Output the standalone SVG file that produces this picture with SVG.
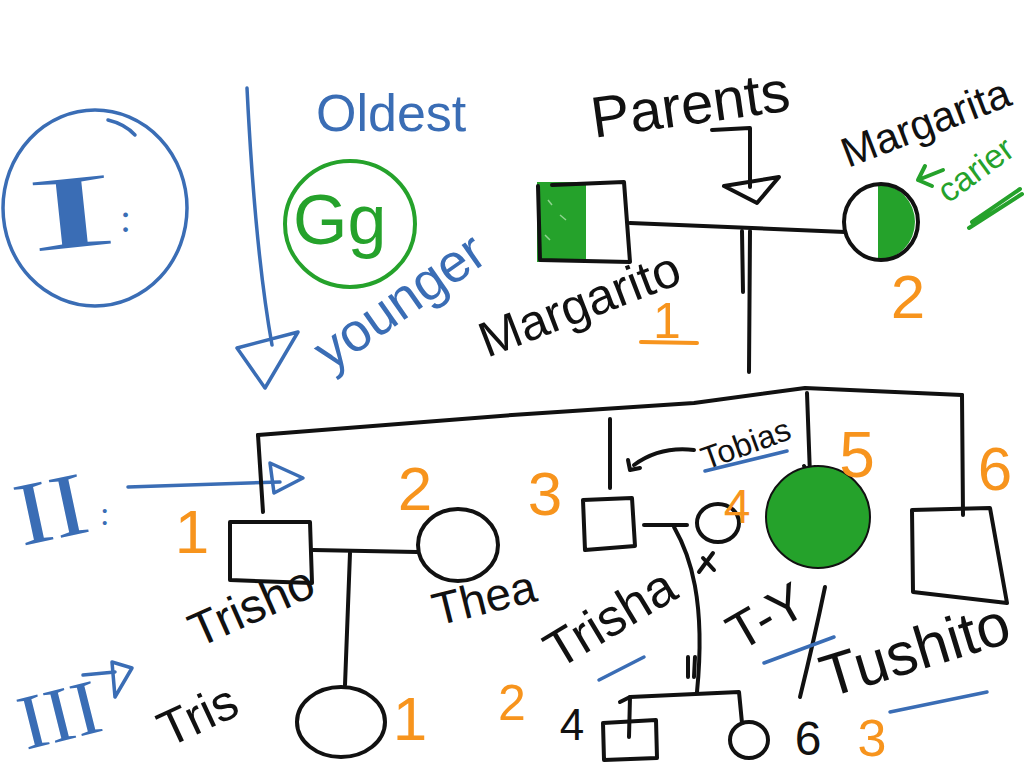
<svg xmlns="http://www.w3.org/2000/svg" width="1024" height="768" viewBox="0 0 1024 768">
<style>
.k{fill:none;stroke:#111;stroke-width:4;stroke-linecap:round;stroke-linejoin:round}
.b{fill:none;stroke:#3a6db5;stroke-width:3.5;stroke-linecap:round;stroke-linejoin:round}
.g{fill:none;stroke:#25a22b;stroke-width:4;stroke-linecap:round;stroke-linejoin:round}
.o{fill:none;stroke:#f7941d;stroke-width:4;stroke-linecap:round}
text{font-family:"Liberation Sans","DejaVu Sans",sans-serif}
.tk{fill:#111}
.tb{fill:#3a6db5}
.tg{fill:#25a22b}
.to{fill:#f7941d}
.rs{font-family:"Liberation Serif","DejaVu Serif",serif;fill:#3a6db5}
</style>
<rect width="1024" height="768" fill="#fff"/>

<g id="legend">
  <ellipse class="b" cx="95" cy="208" rx="92" ry="98"/>
  <path class="b" d="M108,120 Q125,124 135,135"/>
  <text class="rs" font-size="105" transform="translate(30,252) rotate(-6) scale(2.6,1)">I</text>
  <text class="rs" font-size="40" x="120" y="232">:</text>
  <path class="b" d="M247,88 Q255,250 272,345"/>
  <path class="b" d="M237,348 L298,332 L265,388 Z"/>
  <text class="tb" font-size="52" x="316" y="131">Oldest</text>
  <ellipse class="g" cx="350" cy="224" rx="65" ry="63"/>
  <text class="tg" font-size="70" x="293" y="244">Gg</text>
  <text class="tb" font-size="54" transform="translate(330,372) rotate(-35)">younger</text>
  <text class="tk" font-size="58" transform="translate(594,138) rotate(-8)">Parents</text>
  <path class="k" d="M712,130 L750,128 L750,187"/>
  <path class="k" d="M724,186 L779,177 L757,203 Z"/>
</g>

<g id="gen-labels">
  <text class="rs" font-size="90" transform="translate(22,546) rotate(-12) scale(1.2,1)">II</text>
  <text class="rs" font-size="34" x="100" y="525">:</text>
  <path class="b" d="M128,487 L280,482"/>
  <path class="b" d="M270,463 L303,478 L274,493 Z"/>
  <text class="rs" font-size="78" transform="translate(26,750) rotate(-14) scale(1.05,1)">III</text>
  <path class="b" d="M83,675 L115,672"/>
  <path class="b" d="M112,662 L132,668 L115,697 Z"/>
</g>

<g id="connectors">
  <path class="k" d="M630,223 L752,228 L845,232"/>
  <path class="k" d="M742,231 L743,292 M750,231 L749,372"/>
  <path class="k" d="M258,435 L512,415 L694,403 L805,388 L962,395"/>
  <path class="k" d="M263,512 L258,435"/>
  <path class="k" d="M610,419 L610,488"/>
  <path class="k" d="M807,393 L810,475 M804,466 L810,476 L815,467"/>
  <path class="k" d="M962,395 L963,515"/>
  <path class="k" d="M313,550 L417,552"/>
  <path class="k" d="M350,553 L345,685"/>
  <path class="k" d="M644,525 L687,525"/>
  <path class="k" d="M674,527 C690,555 706,600 697,692"/>
  <path class="k" d="M688,657 L688,677 M695,657 L694,677"/>
  <path class="k" d="M699,572 L713,553 M703,558 L714,570"/>
  <path class="k" d="M620,702 L630,697 L739,692 L742,723"/>
  <path class="k" d="M630,697 L629,737"/>
  <path class="k" d="M694,450 Q660,446 634,465 M628,460 L630,470 L640,468"/>
  <path class="k" d="M825,587 Q814,640 800,697"/>
</g>

<g id="I-1">
  <rect x="537" y="182" width="49" height="80" fill="#25a22b"/>
  <path class="k" d="M552,185 L624,182 L630,262 L540,260 L538,186"/>
  <path stroke="#8fd48f" stroke-width="1.5" d="M548,200 L552,205 M560,215 L566,220 M545,235 L550,240" fill="none"/>
  <text class="tk" font-size="50" transform="translate(487,358) rotate(-21)">Margarito</text>
  <text class="to" font-size="50" text-anchor="middle" x="667" y="338">1</text>
  <path class="o" d="M641,342 L697,343"/>
</g>

<g id="I-2">
  <path d="M878,184 A37,38 0 0 1 878,260 Z" fill="#25a22b"/>
  <ellipse class="k" cx="881" cy="222" rx="37" ry="38"/>
  <text class="tk" font-size="42" transform="translate(848,168) rotate(-21)">Margarita</text>
  <path class="g" d="M943,170 L918,180 M918,180 L925,166 M918,180 L932,186"/>
  <text class="tg" font-size="34" transform="translate(948,204) rotate(-36)">carier</text>
  <path class="g" d="M969,228 L1022,194 M972,222 L1020,189"/>
  <text class="to" font-size="62" text-anchor="middle" x="908" y="318">2</text>
</g>

<g id="II-1">
  <path class="k" d="M230,522 L310,522 L312,583 L230,580 Z"/>
  <text class="to" font-size="62" text-anchor="middle" x="192" y="553">1</text>
  <text class="tk" font-size="48" transform="translate(198,648) rotate(-24)">Trisho</text>
</g>

<g id="II-2">
  <ellipse class="k" cx="458" cy="545" rx="40" ry="36"/>
  <text class="to" font-size="62" text-anchor="middle" x="415" y="510">2</text>
  <text class="tk" font-size="46" transform="translate(437,626) rotate(-14)">Thea</text>
</g>

<g id="II-3">
  <path class="k" d="M583,500 L632,498 L635,546 L585,550 Z"/>
  <text class="to" font-size="62" text-anchor="middle" x="545" y="515">3</text>
  <text class="tk" font-size="32" transform="translate(706,470) rotate(-20)">Tobias</text>
  <path class="b" d="M705,471 L787,451"/>
</g>

<g id="II-4">
  <ellipse class="k" cx="718" cy="523" rx="21" ry="19"/>
  <text class="to" font-size="48" text-anchor="middle" x="737" y="523">4</text>
  <text class="tk" font-size="52" transform="translate(558,670) rotate(-31)">Trisha</text>
  <path class="b" d="M599,680 L644,657"/>
</g>

<g id="II-5">
  <ellipse cx="818" cy="517" rx="52" ry="51" fill="#25a22b" stroke="#111" stroke-width="2"/>
  <text class="to" font-size="64" text-anchor="middle" x="857" y="477">5</text>
  <text class="tk" font-size="52" transform="translate(740,652) rotate(-30)">T-Y</text>
  <path class="b" d="M764,663 L834,637"/>
</g>

<g id="II-6">
  <path class="k" d="M912,510 L990,508 L1007,603 L913,592 Z"/>
  <text class="to" font-size="62" text-anchor="middle" x="995" y="490">6</text>
  <text class="tk" font-size="60" transform="translate(828,698) rotate(-17)">Tushito</text>
  <path class="b" d="M890,712 L987,692"/>
</g>

<g id="III-1">
  <ellipse class="k" cx="341" cy="722" rx="44" ry="35"/>
  <text class="tk" font-size="50" transform="translate(168,748) rotate(-25)">Tris</text>
  <text class="to" font-size="62" text-anchor="middle" x="410" y="740">1</text>
</g>

<g id="III-2">
  <text class="to" font-size="50" text-anchor="middle" x="512" y="720">2</text>
</g>

<g id="III-4">
  <path class="k" d="M603,723 L656,720 L657,758 L604,760 Z"/>
  <text class="tk" font-size="44" text-anchor="middle" x="572" y="740">4</text>
</g>

<g id="III-6">
  <ellipse class="k" cx="749" cy="740" rx="19" ry="18"/>
  <text class="tk" font-size="48" text-anchor="middle" x="808" y="755">6</text>
</g>

<g id="III-3">
  <text class="to" font-size="52" text-anchor="middle" x="872" y="756">3</text>
</g>
</svg>
